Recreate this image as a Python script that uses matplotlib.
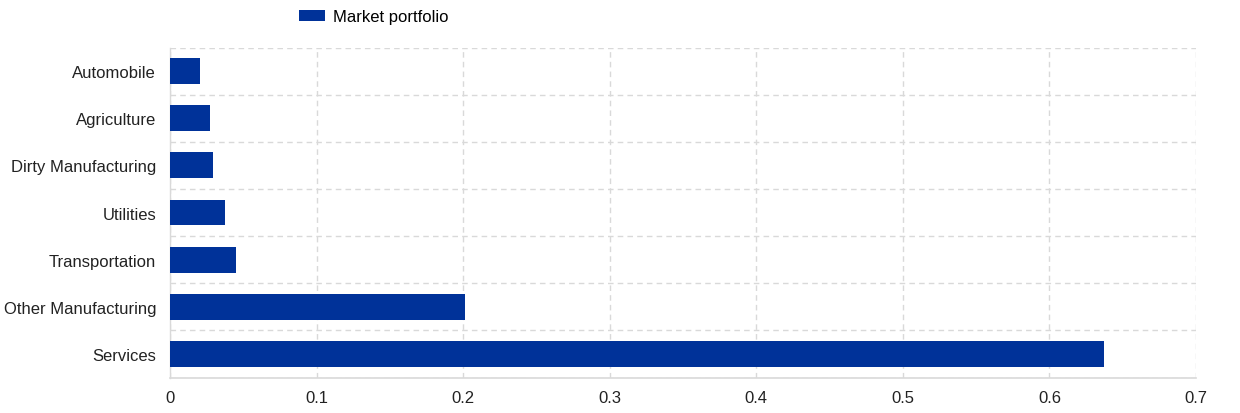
import numpy as np
import matplotlib.pyplot as plt
from matplotlib.ticker import FixedLocator

plt.rcParams["font.family"] = ["Liberation Sans", "DejaVu Sans"]

categories = ["Automobile", "Agriculture", "Dirty Manufacturing", "Utilities",
              "Transportation", "Other Manufacturing", "Services"]
market_portfolio = [0.0205, 0.0275, 0.029, 0.0375, 0.045, 0.2015, 0.637]

BLUE = "#003299"
GRID = "#d9d9d9"
FS = 12

fig = plt.figure(figsize=(12.4, 4.14), dpi=100)
ax = fig.add_axes([170 / 1240, 1 - 378.5 / 414, 1026 / 1240, 330 / 414])

y = np.arange(len(categories))
ax.barh(y, market_portfolio, height=0.55, color=BLUE, label="Market portfolio", zorder=3)

ax.set_ylim(len(categories) - 0.5, -0.5)
ax.set_yticks(y)
ax.set_yticklabels(categories, fontsize=FS, color="#222222")
ax.yaxis.set_minor_locator(FixedLocator(np.arange(-0.5, len(categories), 1.0)))

ax.set_xlim(0, 0.7)
ax.set_xticks(np.arange(0, 0.71, 0.1))
ax.set_xticklabels(["0", "0.1", "0.2", "0.3", "0.4", "0.5", "0.6", "0.7"],
                   fontsize=FS, color="#222222")

ax.grid(axis="x", which="major", color=GRID, linestyle=(0, (4, 3)), linewidth=1, zorder=0)
ax.grid(axis="y", which="minor", color=GRID, linestyle=(0, (4, 3)), linewidth=1, zorder=0)
ax.tick_params(axis="both", which="both", length=0)
ax.tick_params(axis="y", pad=10)
ax.tick_params(axis="x", pad=9)

for side in ["top", "right"]:
    ax.spines[side].set_visible(False)
ax.spines["bottom"].set_color(GRID)
ax.spines["left"].set_color(GRID)
ax.spines["left"].set_linewidth(1)
ax.spines["bottom"].set_linewidth(1.2)

fig.legend(loc="upper left", bbox_to_anchor=(287 / 1240, 1.003), frameon=False,
           fontsize=FS, handlelength=1.6, handleheight=0.6, handletextpad=0.45,
           borderaxespad=0.3)

fig.savefig("out.png", dpi=100)
